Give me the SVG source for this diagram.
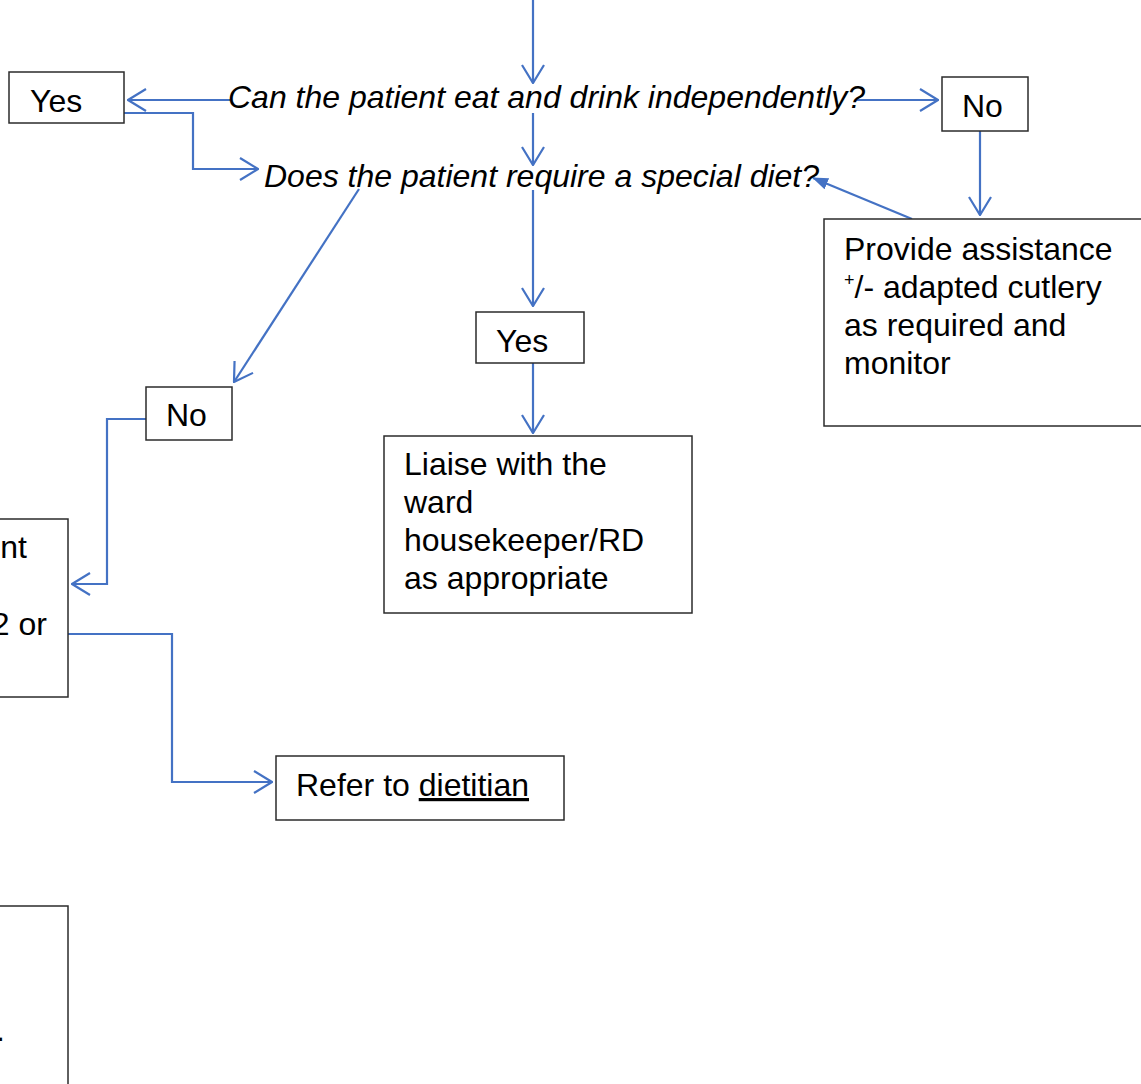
<svg xmlns="http://www.w3.org/2000/svg" width="1141" height="1084" viewBox="0 0 1141 1084">
<style>
.box{fill:#fff;stroke:#2b2b2b;stroke-width:1.5}
.t{font-family:"Liberation Sans",Arial,sans-serif;font-size:32px;fill:#000}
.q{font-style:italic}
.c{fill:none;stroke:#4472C4;stroke-width:2.2}
</style>
<defs>
<marker id="open" viewBox="0 0 20 24" refX="19" refY="12" markerWidth="20" markerHeight="24" markerUnits="userSpaceOnUse" orient="auto">
<path d="M1,1 L19,12 L1,23" fill="none" stroke="#4472C4" stroke-width="2.2"/>
</marker>
<marker id="solid" viewBox="0 0 16 12" refX="15" refY="6" markerWidth="16" markerHeight="12" markerUnits="userSpaceOnUse" orient="auto">
<path d="M0,0 L16,6 L0,12 Z" fill="#4472C4"/>
</marker>
</defs>
<rect width="1141" height="1084" fill="#fff"/>
<g id="connectors">
<line class="c" x1="533" y1="0" x2="533" y2="83" marker-end="url(#open)"/>
<line class="c" x1="230" y1="100" x2="128" y2="100" marker-end="url(#open)"/>
<line class="c" x1="855" y1="100" x2="938" y2="100" marker-end="url(#open)"/>
<polyline class="c" points="124,113 193,113 193,169 258,169" marker-end="url(#open)"/>
<line class="c" x1="533" y1="113" x2="533" y2="165" marker-end="url(#open)"/>
<line class="c" x1="980" y1="131" x2="980" y2="215" marker-end="url(#open)"/>
<line class="c" x1="912" y1="219" x2="813" y2="178" marker-end="url(#solid)"/>
<line class="c" x1="533" y1="190" x2="533" y2="306" marker-end="url(#open)"/>
<line class="c" x1="533" y1="363" x2="533" y2="433" marker-end="url(#open)"/>
<line class="c" x1="359" y1="189" x2="234" y2="382" marker-end="url(#open)"/>
<polyline class="c" points="146,419 107,419 107,584 72,584" marker-end="url(#open)"/>
<polyline class="c" points="68,634 172,634 172,782 272,782" marker-end="url(#open)"/>
</g>
<g id="q1"><text class="t q" x="228" y="108">Can the patient eat and drink independently?</text></g>
<g id="q2"><text class="t q" x="264" y="187">Does the patient require a special diet?</text></g>
<g id="yes1"><rect class="box" x="9" y="72" width="115" height="51"/><text class="t" x="30" y="112">Yes</text></g>
<g id="no1"><rect class="box" x="942" y="77" width="86" height="54"/><text class="t" x="962" y="117">No</text></g>
<g id="assist"><rect class="box" x="824" y="219" width="330" height="207"/>
<text class="t" x="844" y="260">Provide assistance</text>
<text class="t" x="844" y="298"><tspan font-size="18" dy="-12">+</tspan><tspan dy="12">/- adapted cutlery</tspan></text>
<text class="t" x="844" y="336">as required and</text>
<text class="t" x="844" y="374">monitor</text></g>
<g id="yes2"><rect class="box" x="476" y="312" width="108" height="51"/><text class="t" x="496" y="352">Yes</text></g>
<g id="liaise"><rect class="box" x="384" y="436" width="308" height="177"/>
<text class="t" x="404" y="475">Liaise with the</text>
<text class="t" x="404" y="513">ward</text>
<text class="t" x="404" y="551">housekeeper/RD</text>
<text class="t" x="404" y="589">as appropriate</text></g>
<g id="no2"><rect class="box" x="146" y="387" width="86" height="53"/><text class="t" x="166" y="426">No</text></g>
<g id="leftbox"><rect class="box" x="-20" y="519" width="88" height="178"/>
<text class="t" x="27" y="558" text-anchor="end">nt</text>
<text class="t" x="47" y="635" text-anchor="end">2 or</text></g>
<g id="refer"><rect class="box" x="276" y="756" width="288" height="64"/>
<text class="t" x="296" y="796">Refer to <tspan text-decoration="underline">dietitian</tspan></text></g>
<g id="bottombox"><rect class="box" x="-20" y="906" width="88" height="200"/>
<text class="t" x="-4" y="1041">.</text></g>
</svg>
